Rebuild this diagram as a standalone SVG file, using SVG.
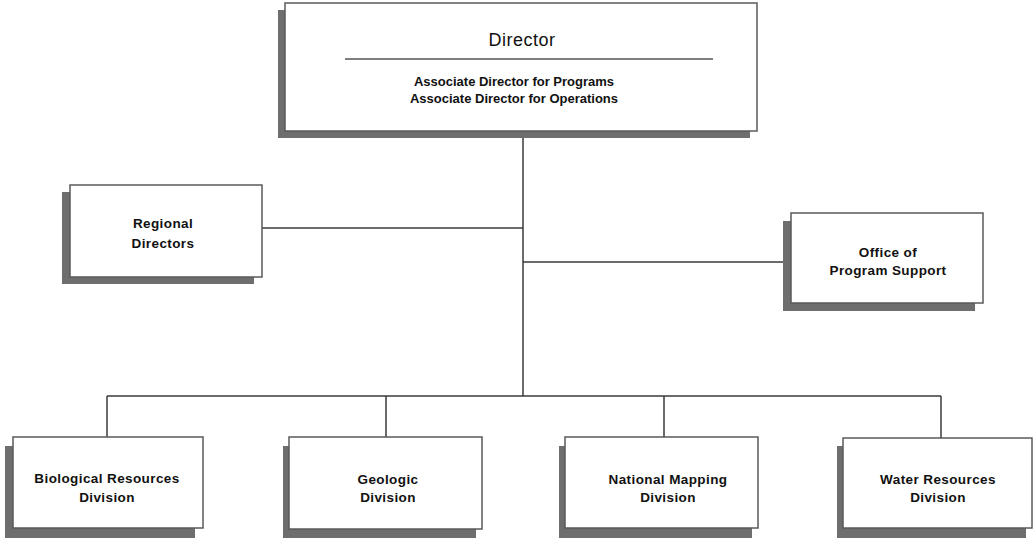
<svg xmlns="http://www.w3.org/2000/svg" width="1034" height="541" viewBox="0 0 1034 541">
<style>
.shadow{fill:#6e6e6e;}
.box{fill:#ffffff;stroke:#5a5a5a;stroke-width:1.5;}
.lbl{font-family:"Liberation Sans",Arial,sans-serif;font-weight:bold;font-size:13px;fill:#111;text-anchor:middle;}
.big{font-size:13.5px;letter-spacing:0.4px;}
.title{font-family:"Liberation Sans",Arial,sans-serif;font-size:18px;fill:#111;text-anchor:middle;letter-spacing:0.5px;}
.conn{stroke:#3a3a3a;stroke-width:1.5;fill:none;}
</style>
<rect width="1034" height="541" fill="#ffffff"/>
<g id="connectors">
<line class="conn" x1="523" y1="138" x2="523" y2="396"/>
<line class="conn" x1="262" y1="228" x2="523" y2="228"/>
<line class="conn" x1="523" y1="262" x2="791" y2="262"/>
<line class="conn" x1="107" y1="396" x2="941" y2="396"/>
<line class="conn" x1="107" y1="396" x2="107" y2="437"/>
<line class="conn" x1="386" y1="396" x2="386" y2="437"/>
<line class="conn" x1="664" y1="396" x2="664" y2="437"/>
<line class="conn" x1="941" y1="396" x2="941" y2="438"/>
</g>
<g id="director">
<rect class="shadow" x="278" y="10" width="472" height="128"/>
<rect class="box" x="285" y="3" width="472" height="128"/>
<text class="title" x="522" y="46">Director</text>
<line x1="345" y1="59" x2="713" y2="59" stroke="#555" stroke-width="1.5"/>
<text class="lbl" x="514" y="86">Associate Director for Programs</text>
<text class="lbl" x="514" y="103">Associate Director for Operations</text>
</g>
<g id="regional-directors">
<rect class="shadow" x="62" y="192" width="192" height="92"/>
<rect class="box" x="70" y="185" width="192" height="92"/>
<text class="lbl big" x="163" y="228">Regional</text>
<text class="lbl big" x="163" y="248">Directors</text>
</g>
<g id="office-program-support">
<rect class="shadow" x="783" y="221" width="192" height="90"/>
<rect class="box" x="791" y="213" width="192" height="90"/>
<text class="lbl big" x="888" y="257">Office of</text>
<text class="lbl big" x="888" y="275">Program Support</text>
</g>
<g id="biological">
<rect class="shadow" x="5" y="446" width="190" height="92"/>
<rect class="box" x="13" y="437" width="190" height="91"/>
<text class="lbl big" x="107" y="483">Biological Resources</text>
<text class="lbl big" x="107" y="502">Division</text>
</g>
<g id="geologic">
<rect class="shadow" x="283" y="446" width="193" height="92"/>
<rect class="box" x="289" y="437" width="193" height="92"/>
<text class="lbl big" x="388" y="484">Geologic</text>
<text class="lbl big" x="388" y="502">Division</text>
</g>
<g id="national-mapping">
<rect class="shadow" x="559" y="446" width="193" height="92"/>
<rect class="box" x="565" y="437" width="193" height="91"/>
<text class="lbl big" x="668" y="484">National Mapping</text>
<text class="lbl big" x="668" y="502">Division</text>
</g>
<g id="water-resources">
<rect class="shadow" x="837" y="446" width="189" height="92"/>
<rect class="box" x="843" y="438" width="189" height="90"/>
<text class="lbl big" x="938" y="484">Water Resources</text>
<text class="lbl big" x="938" y="502">Division</text>
</g>
</svg>
